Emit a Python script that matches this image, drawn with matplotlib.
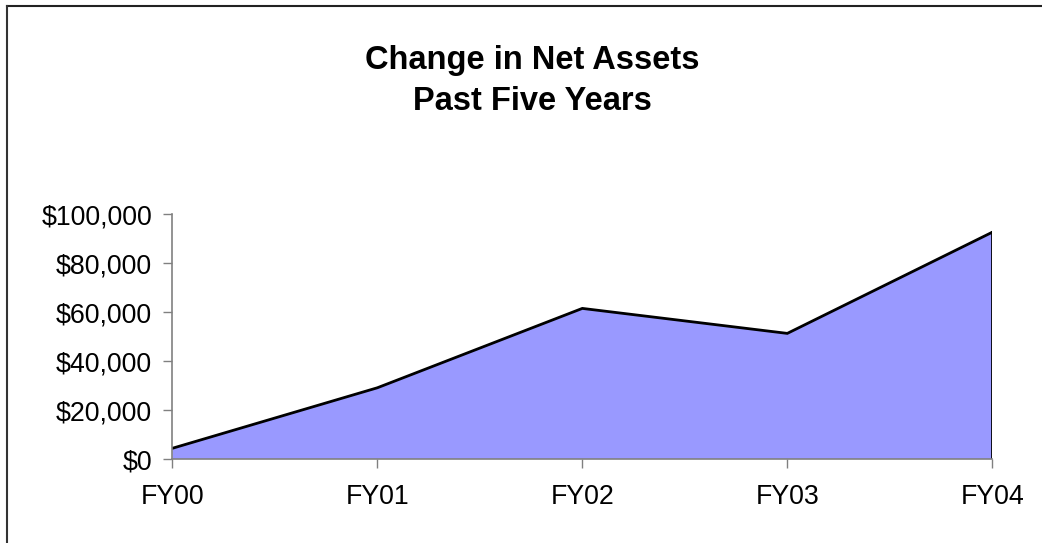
"""
Change in net assets, area chart
"""

import matplotlib
matplotlib.use('Agg')
import matplotlib.pyplot as plt
from matplotlib.lines import Line2D
from matplotlib.ticker import FuncFormatter

plt.rcParams['font.family'] = ['Liberation Sans', 'DejaVu Sans']

years = ['FY00', 'FY01', 'FY02', 'FY03', 'FY04']
net_assets = [4500, 29200, 61600, 51400, 92700]
y_ticks = [0, 20000, 40000, 60000, 80000, 100000]

fig = plt.figure(figsize=(10.42, 5.43), dpi=100)
ax = fig.add_axes([0.1654, 0.1541, 0.7869, 0.4512])

x = list(range(len(years)))
ax.fill_between(x, net_assets, 0, facecolor='#9999FF', edgecolor='none')
ax.plot(x, net_assets, color='black', linewidth=2.0, solid_joinstyle='miter')
# right edge of the area
ax.plot([x[-1], x[-1]], [0, net_assets[-1]], color='black', linewidth=2.0)

ax.set_xlim(0, len(years) - 1)
ax.set_ylim(0, 100000)
ax.set_xticks(x)
ax.set_xticklabels(years)
ax.set_yticks(y_ticks)
ax.yaxis.set_major_formatter(FuncFormatter(lambda v, p: '${:,.0f}'.format(v)))

for side in ['top', 'right']:
  ax.spines[side].set_visible(False)
for side in ['left', 'bottom']:
  ax.spines[side].set_color('#808080')
  ax.spines[side].set_linewidth(1.2)

ax.tick_params(axis='both', direction='out', length=6.5, width=1.0,
               color='#808080', labelsize=19.3, labelcolor='black')
ax.tick_params(axis='x', pad=11)
ax.tick_params(axis='y', pad=8)

fig.text(0.511, 0.851, 'Change in Net Assets\nPast Five Years',
         ha='center', va='center', fontsize=23.5, fontweight='bold',
         linespacing=1.45)

# chart border (only the top and left edges are visible)
fig.add_artist(Line2D([0.0069, 1.0], [0.9895, 0.9895], color='#222222',
                      linewidth=1.5, transform=fig.transFigure))
fig.add_artist(Line2D([0.0069, 0.0069], [0.0, 0.9895], color='#333333',
                      linewidth=1.5, transform=fig.transFigure))

fig.savefig('out.png', dpi=100)
